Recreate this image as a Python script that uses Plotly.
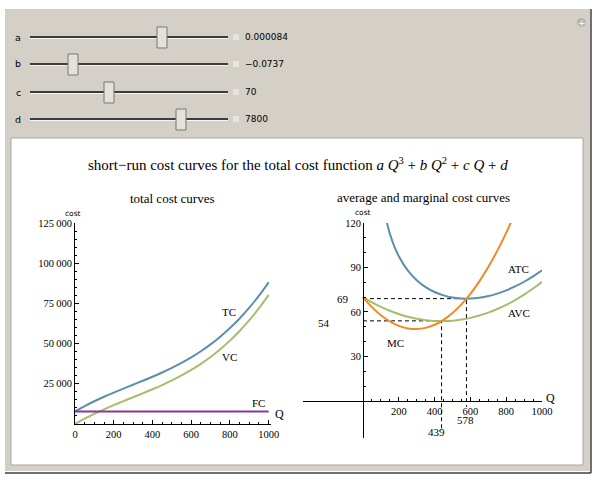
import plotly.graph_objects as go

W, H = 599, 480

# control panel (slider readouts)
param_names = ["a", "b", "c", "d"]
param_text = ["0.000084", "\u22120.0737", "70", "7800"]
thumb_px = [162, 73, 109, 181]

# total cost curves (Q step 50)
q_total = [0, 50, 100, 150, 200, 250, 300, 350, 400, 450, 500,
           550, 600, 650, 700, 750, 800, 850, 900, 950, 1000]
tc = [7800, 11126, 14147, 16925, 19524, 22006, 24435, 26873, 29384, 32030, 34875,
      37981, 41412, 45230, 49499, 54281, 59640, 65638, 72339, 79805, 88100]
vc = [0, 3326, 6347, 9125, 11724, 14206, 16635, 19073, 21584, 24230, 27075,
      30181, 33612, 37430, 41699, 46481, 51840, 57838, 64539, 72005, 80300]
fc_q = [0, 1000]
fc = [7800, 7800]

# average and marginal cost curves
q_avc = q_total
avc = [70, 66.53, 63.47, 60.84, 58.62, 56.83, 55.45, 54.50, 53.96, 53.85, 54.15,
       54.88, 56.02, 57.59, 59.57, 61.98, 64.80, 68.05, 71.71, 75.80, 80.30]
q_atc = [125, 150, 175, 200, 250, 300, 350, 400, 450, 500,
         550, 600, 650, 700, 750, 800, 850, 900, 950, 1000]
atc = [124.5, 112.84, 104.25, 97.62, 88.03, 81.45, 76.78, 73.46, 71.18, 69.75,
       69.06, 69.02, 69.59, 70.71, 72.38, 74.55, 77.22, 80.38, 84.01, 88.10]
q_mc = [0, 50, 100, 150, 200, 250, 300, 350, 400, 450, 500,
        550, 600, 650, 700, 750, 800, 850]
mc = [70, 63.26, 57.78, 53.56, 50.60, 48.90, 48.46, 49.28, 51.36, 54.70, 59.30,
      65.16, 72.28, 80.66, 90.30, 101.20, 113.36, 126.78]

# minimum points marked with dashed guides
atc_min_q, atc_min = 578, 69
avc_min_q, avc_min = 439, 54

# tick labels
left_y_ticks = [25000, 50000, 75000, 100000, 125000]
left_y_text = ["25\u2009000", "50\u2009000", "75\u2009000", "100\u2009000", "125\u2009000"]
q_ticks = [0, 200, 400, 600, 800, 1000]
right_y_ticks = [30, 60, 90, 120]

BLUE = "#5b8fab"
GREEN = "#a3bf6e"
PURPLE = "#8e3590"
ORANGE = "#ef8a25"
SERIF = "Liberation Serif"
SANS = "DejaVu Sans"


def px(x):
    return x / W


def py(y):
    return 1 - y / H


def note(x, y, text, font, xanchor="center"):
    # text placed in page pixels
    return dict(x=px(x), y=py(y), xref="paper", yref="paper", text=text, showarrow=False,
                xanchor=xanchor, yanchor="middle", font=font)


fig = go.Figure()

line = dict(width=2, shape="spline")
fig.add_trace(go.Scatter(x=q_total, y=tc, mode="lines", line=dict(color=BLUE, **line), xaxis="x", yaxis="y"))
fig.add_trace(go.Scatter(x=q_total, y=vc, mode="lines", line=dict(color=GREEN, **line), xaxis="x", yaxis="y"))
fig.add_trace(go.Scatter(x=fc_q, y=fc, mode="lines", line=dict(color=PURPLE, width=2), xaxis="x", yaxis="y"))

dash = dict(color="black", width=1, dash="4px,3px")
fig.add_trace(go.Scatter(x=[0, atc_min_q, atc_min_q], y=[atc_min, atc_min, -4], mode="lines",
                         line=dash, xaxis="x2", yaxis="y2"))
fig.add_trace(go.Scatter(x=[0, avc_min_q, avc_min_q], y=[avc_min, avc_min, -19], mode="lines",
                         line=dash, xaxis="x2", yaxis="y2"))
fig.add_trace(go.Scatter(x=q_atc, y=atc, mode="lines", line=dict(color=BLUE, **line), xaxis="x2", yaxis="y2"))
fig.add_trace(go.Scatter(x=q_avc, y=avc, mode="lines", line=dict(color=GREEN, **line), xaxis="x2", yaxis="y2"))
fig.add_trace(go.Scatter(x=q_mc, y=mc, mode="lines", line=dict(color=ORANGE, **line), xaxis="x2", yaxis="y2"))

tickfont = dict(family=SERIF, size=10.5, color="black")
axis_common = dict(showgrid=False, zeroline=False, showline=True, linecolor="black", linewidth=1,
                   ticks="inside", ticklen=4, tickcolor="black", tickfont=tickfont, fixedrange=True,
                   automargin=False)

shapes = [
    # grey manipulate frame
    dict(type="rect", xref="paper", yref="paper", x0=px(5), x1=px(590), y0=py(471), y1=py(9),
         fillcolor="#d4d0c8", line=dict(color="#d4d0c8", width=0), layer="below"),
    dict(type="line", xref="paper", yref="paper", x0=px(591), x1=px(591), y0=py(473), y1=py(9),
         line=dict(color="#404040", width=1.5), layer="below"),
    dict(type="line", xref="paper", yref="paper", x0=px(5), x1=px(591), y0=py(473), y1=py(473),
         line=dict(color="#404040", width=1.5), layer="below"),
    # white content pane
    dict(type="rect", xref="paper", yref="paper", x0=px(11), x1=px(583), y0=py(465), y1=py(138),
         fillcolor="white", line=dict(color="#a8a6a0", width=1), layer="below"),
]

annotations = []
rows = [37, 64, 92, 119]
for name, text, tx, ry in zip(param_names, param_text, thumb_px, rows):
    shapes.append(dict(type="line", xref="paper", yref="paper", x0=px(30), x1=px(228), y0=py(ry), y1=py(ry),
                       line=dict(color="#3c3c3c", width=2)))
    shapes.append(dict(type="line", xref="paper", yref="paper", x0=px(30), x1=px(228), y0=py(ry + 1.5),
                       y1=py(ry + 1.5), line=dict(color="#f4f4f0", width=1)))
    shapes.append(dict(type="rect", xref="paper", yref="paper", x0=px(tx - 5), x1=px(tx + 5),
                       y0=py(ry + 11), y1=py(ry - 10), fillcolor="#e4e1da",
                       line=dict(color="#767676", width=1)))
    shapes.append(dict(type="rect", xref="paper", yref="paper", x0=px(233), x1=px(239), y0=py(ry + 3),
                       y1=py(ry - 3), fillcolor="#e6e4de", line=dict(color="#e6e4de", width=0)))
    annotations.append(note(18, ry, name, dict(family=SANS, size=9.5, color="black")))
    annotations.append(note(243, ry, text, dict(family=SANS, size=9, color="black"), xanchor="left"))

shapes.append(dict(type="circle", xref="paper", yref="paper", x0=px(577), x1=px(586), y0=py(27), y1=py(18),
                   fillcolor="#b9b6b0", line=dict(color="#b9b6b0", width=0)))
annotations.append(note(581.5, 22.5, "+", dict(family=SANS, size=9, color="white")))

serif = lambda s: dict(family=SERIF, size=s, color="black")
small = dict(family=SANS, size=7.5, color="black")

annotations += [
    note(298, 164, "short\u2212run cost curves for the total cost function "
                   "<i>a Q</i><sup>3</sup> + <i>b Q</i><sup>2</sup> + <i>c Q</i> + <i>d</i>", serif(15)),
    note(172, 198, "total cost curves", serif(13)),
    note(424, 197, "average and marginal cost curves", serif(13)),
    note(73, 213, "cost", small),
    note(363, 212, "cost", small),
    note(279, 414, "Q", serif(12)),
    note(550, 398, "Q", serif(12)),
]

curve_labels = [
    ("x", "y", 794, 69600, "TC"), ("x", "y", 799, 41700, "VC"), ("x", "y", 948, 13100, "FC"),
    ("x2", "y2", 871, 89, "ATC"), ("x2", "y2", 871, 59.3, "AVC"), ("x2", "y2", 184, 39, "MC"),
    ("x2", "y2", -112, 69, str(atc_min)), ("x2", "y2", -218, 52.6, str(avc_min)),
    ("x2", "y2", 570, -13, str(atc_min_q)), ("x2", "y2", 413, -21, str(avc_min_q)),
]
for xr, yr, x, y, t in curve_labels:
    annotations.append(dict(x=x, y=y, xref=xr, yref=yr, text=t, showarrow=False, font=serif(11),
                            xanchor="center", yanchor="middle"))

fig.update_layout(
    template="none",
    width=W, height=H, margin=dict(l=0, r=0, t=0, b=0, pad=0, autoexpand=False),
    paper_bgcolor="white", plot_bgcolor="rgba(0,0,0,0)", showlegend=False,
    xaxis=dict(axis_common, domain=[px(75), px(271)], range=[0, 1012], anchor="y",
               tickvals=q_ticks, minor=dict(dtick=50, ticklen=2, ticks="inside", tickcolor="black")),
    yaxis=dict(axis_common, domain=[py(424), py(223)], range=[0, 125000], anchor="x",
               tickvals=left_y_ticks, ticktext=left_y_text,
               minor=dict(dtick=5000, ticklen=2, ticks="inside", tickcolor="black")),
    xaxis2=dict(axis_common, domain=[px(303), px(542)], range=[-335, 1000], anchor="free",
                position=py(401), tickvals=q_ticks[1:],
                minor=dict(tickvals=list(range(50, 1000, 50)), ticklen=2, ticks="inside", tickcolor="black")),
    yaxis2=dict(axis_common, domain=[py(438), py(223)], range=[-25, 120], anchor="free",
                position=px(363), tickvals=right_y_ticks,
                minor=dict(tickvals=list(range(10, 120, 10)), ticklen=2, ticks="inside", tickcolor="black")),
    shapes=shapes, annotations=annotations,
)

# drop the page's default 8px body margin so the figure sits at the window origin
fig.write_html("out.html", config={"displayModeBar": False},
               post_script="document.body.style.margin='0px';")
